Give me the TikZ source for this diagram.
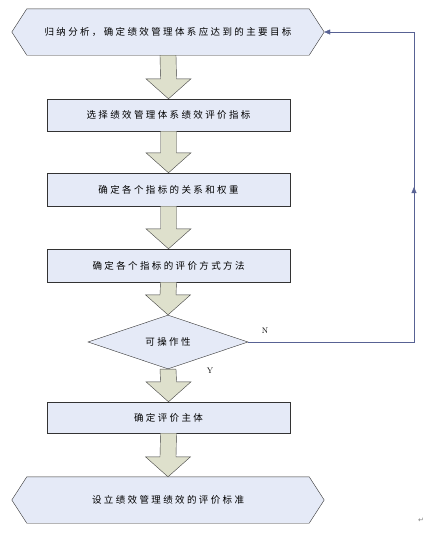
\documentclass[tikz,border=0pt]{standalone}
\usepackage{fontspec}
\usetikzlibrary{shapes.geometric,calc,backgrounds,arrows.meta}
\newfontfamily\cjk{Noto Sans CJK SC}[LetterSpace=25]
\newfontfamily\symfont{DejaVu Sans}
\definecolor{boxblue}{RGB}{229,234,247}
\definecolor{arrowkhaki}{RGB}{222,224,204}
\definecolor{fbblue}{RGB}{88,98,148}

% block arrow from the bottom of one node to the top of the next
\newcommand{\bigarrow}[2]{%
  \draw[draw=black!75,fill=arrowkhaki] ($(#1.south)+(-8,0)$) -- ($(#2.north)+(-8,20)$)
    -- ($(#2.north)+(-22.5,20)$) -- (#2.north) -- ($(#2.north)+(22.5,20)$)
    -- ($(#2.north)+(8,20)$) -- ($(#1.south)+(8,0)$) -- cycle;}
% hexagon outline behind a node
\newcommand{\hexout}[1]{%
  \begin{scope}[on background layer]
    \draw[draw=black!80,fill=boxblue] (#1.north west) -- (#1.north east) -- ([xshift=15pt]#1.east)
      -- (#1.south east) -- (#1.south west) -- ([xshift=-15pt]#1.west) -- cycle;
  \end{scope}}

\begin{document}
\begin{tikzpicture}[x=1pt,y=1pt,
    stepbox/.style={draw=black!80,fill=boxblue,minimum width=243pt,inner sep=0pt,font=\cjk\fontsize{9.5}{11}\selectfont},
    hexbox/.style={minimum width=282pt,minimum height=46pt,inner sep=0pt,font=\cjk\fontsize{9.5}{11}\selectfont}]
        \useasboundingbox (0,0) rectangle (430,-533);
        \node[hexbox] (goal) at (168,-32) {归纳分析，确定绩效管理体系应达到的主要目标};
        \hexout{goal}
        \node[stepbox,minimum height=32pt] (pick) at (168.5,-115) {选择绩效管理体系绩效评价指标};
        \node[stepbox,minimum height=33pt] (weight) at (168.5,-189.5) {确定各个指标的关系和权重};
        \node[stepbox,minimum height=33pt] (method) at (168.5,-265.5) {确定各个指标的评价方式方法};
        \node[diamond,draw=black!80,fill=boxblue,minimum width=160pt,minimum height=44pt,inner sep=0pt,
              font=\cjk\fontsize{9.5}{11}\selectfont] (check) at (168,-342) {可操作性};
        \node[stepbox,minimum height=31pt] (subj) at (168.5,-417.5) {确定评价主体};
        \node[hexbox] (std) at (168,-500) {设立绩效管理绩效的评价标准};
        \hexout{std}
        \bigarrow{goal}{pick}
        \bigarrow{pick}{weight}
        \bigarrow{weight}{method}
        \bigarrow{method}{check}
        \bigarrow{check}{subj}
        \bigarrow{subj}{std}
        % feedback loop
        \coordinate (fb1) at (414,-342);
        \coordinate (fb2) at (414,-32);
        \draw[fbblue,-{Triangle[length=6pt,width=5pt]}] (check.east) -- (fb1) -- (fb2) -- ([xshift=15pt]goal.east);
        \draw[fbblue,-{Triangle[length=6pt,width=5pt]}] (fb1) -- ($(fb1)!0.5!(fb2)$);
        \node[font=\fontsize{8}{9}\selectfont] (n) at (265,-331) {N};
        \node[font=\fontsize{8}{9}\selectfont] (y) at (210,-371) {Y};
        \node[font=\symfont\fontsize{7}{8}\selectfont,text=black!50] (ret) at (421,-520) {↵};
\end{tikzpicture}
\end{document}
